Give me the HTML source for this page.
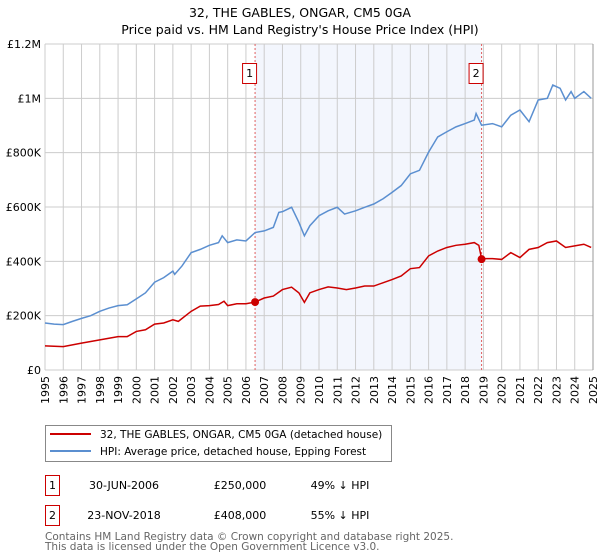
<!DOCTYPE html>
<html><head><meta charset="utf-8"><style>
body{margin:0;width:600px;height:560px;background:#fff;font-family:"DejaVu Sans","Liberation Sans",sans-serif;overflow:hidden}
</style></head><body>
<svg width="600" height="560" style="position:absolute;left:0;top:0" font-family="DejaVu Sans, Liberation Sans, sans-serif">
<text x="300" y="17" text-anchor="middle" font-size="12.5">32, THE GABLES, ONGAR, CM5 0GA</text>
<text x="300" y="34" text-anchor="middle" font-size="12.5">Price paid vs. HM Land Registry's House Price Index (HPI)</text>
<g id="plot"></g>
<rect x="45.5" y="425.5" width="346" height="36" fill="#fff" stroke="#888"/>
<line x1="50" y1="434" x2="91" y2="434" stroke="#cc0000" stroke-width="2"/>
<text x="100" y="438" font-size="10.5">32, THE GABLES, ONGAR, CM5 0GA (detached house)</text>
<line x1="50" y1="451" x2="91" y2="451" stroke="#5b8fd0" stroke-width="2"/>
<text x="100" y="455" font-size="10.5">HPI: Average price, detached house, Epping Forest</text>
<g font-size="11">
<rect x="45.5" y="475.5" width="14" height="20" fill="#fff" stroke="#cc0000"/>
<text x="52.5" y="489" text-anchor="middle">1</text>
<text x="124" y="489" text-anchor="middle">30-JUN-2006</text>
<text x="240" y="489" text-anchor="middle">£250,000</text>
<text x="340" y="489" text-anchor="middle">49% ↓ HPI</text>
<rect x="45.5" y="505.5" width="14" height="20" fill="#fff" stroke="#cc0000"/>
<text x="52.5" y="519" text-anchor="middle">2</text>
<text x="124" y="519" text-anchor="middle">23-NOV-2018</text>
<text x="240" y="519" text-anchor="middle">£408,000</text>
<text x="340" y="519" text-anchor="middle">55% ↓ HPI</text>
</g>
<text x="45" y="540" font-size="10.5" fill="#666">Contains HM Land Registry data © Crown copyright and database right 2025.</text>
<text x="45" y="550" font-size="10.5" fill="#666">This data is licensed under the Open Government Licence v3.0.</text>
</svg>
<script>
const hpiYears=[1995,1995.5,1996,1996.5,1997,1997.5,1998,1998.5,1999,1999.5,2000,2000.5,2001,2001.5,2002,2002.1,2002.5,2003,2003.5,2004,2004.5,2004.7,2005,2005.5,2006,2006.5,2007,2007.5,2007.8,2008,2008.5,2008.9,2009.2,2009.5,2010,2010.5,2011,2011.4,2012,2012.5,2013,2013.5,2014,2014.5,2015,2015.5,2016,2016.5,2017,2017.5,2018,2018.5,2018.6,2018.9,2019.5,2020,2020.5,2021,2021.5,2022,2022.5,2022.8,2023.2,2023.5,2023.8,2024,2024.5,2024.9];
const hpiValues=[173,169,167,179,190,200,216,228,237,240,262,284,323,340,364,352,383,432,444,459,469,494,469,479,475,506,512,525,580,583,599,543,494,531,568,586,599,574,586,599,611,630,654,679,722,735,802,858,877,895,907,920,944,901,907,895,938,957,914,994,1000,1049,1037,994,1025,1000,1025,1000];
const priceYears=[1995,1996,1997,1998,1998.5,1999,1999.5,2000,2000.5,2001,2001.5,2002,2002.3,2003,2003.5,2004,2004.5,2004.8,2005,2005.5,2006,2006.5,2007,2007.5,2008,2008.5,2008.9,2009.2,2009.5,2010,2010.5,2011,2011.5,2012,2012.5,2013,2013.5,2014,2014.5,2015,2015.5,2016,2016.5,2017,2017.5,2018,2018.5,2018.75,2018.9,2019.5,2020,2020.5,2021,2021.5,2022,2022.5,2023,2023.5,2024,2024.5,2024.9];
const priceValues=[89,86,99,111,117,123,123,142,148,169,173,185,179,216,235,237,241,253,237,244,244,250,265,272,296,305,284,249,284,296,306,302,296,302,309,309,321,333,346,373,377,420,438,451,459,463,469,459,410,410,407,432,414,444,451,469,475,451,457,463,451];
const saleYears=[2006.5,2018.9];
const saleValues=[250,408];
const saleLabels=["1","2"];
const yTicks=[0,200,400,600,800,1000,1200];
const yTickLabels=["£0","£200K","£400K","£600K","£800K","£1M","£1.2M"];
const xTicks=[1995,1996,1997,1998,1999,2000,2001,2002,2003,2004,2005,2006,2007,2008,2009,2010,2011,2012,2013,2014,2015,2016,2017,2018,2019,2020,2021,2022,2023,2024,2025];

const X0=45,X1=593,Y0=370,Y1=44;
const xs=y=>X0+(y-1995)/30*(X1-X0);
const ys=v=>Y0-v/1200*(Y0-Y1);
const NS="http://www.w3.org/2000/svg";
const g=document.getElementById('plot');
function mk(t,a){const e=document.createElementNS(NS,t);for(const k in a)e.setAttribute(k,a[k]);g.appendChild(e);return e;}

const sh=mk('rect',{x:xs(saleYears[0]),y:Y1,width:xs(saleYears[1])-xs(saleYears[0]),height:Y0-Y1,fill:'#f3f6fd'});


xTicks.forEach(t=>{
 const l=mk('line',{x1:xs(t),x2:xs(t),y1:Y1,y2:Y0,stroke:'#ccc','stroke-width':1});
 
 
 const tx=mk('text',{x:0,y:0,transform:`translate(${xs(t)+4},${Y0+6}) rotate(-90)`,'text-anchor':'end','font-size':11});
 tx.textContent=t;
 
 
});
yTicks.forEach((t,i)=>{
 const l=mk('line',{x1:X0,x2:X1,y1:ys(t),y2:ys(t),stroke:'#ccc','stroke-width':1});
 
 
 const tx=mk('text',{x:X0-4,y:ys(t)+4,'text-anchor':'end','font-size':11});
 tx.textContent=yTickLabels[i];
 
 
});
const ax=mk('line',{x1:X1,x2:X1,y1:Y1,y2:Y0,stroke:'#999','stroke-width':1});


saleYears.forEach((s,i)=>{
 const l=mk('line',{x1:xs(s),x2:xs(s),y1:Y1,y2:Y0,stroke:'#e06060','stroke-width':1,'stroke-dasharray':'2,2'});
 
 
 const r=mk('rect',{x:xs(s)-12.5,y:63.5,width:14,height:20,fill:'#fff',stroke:'#cc0000'});
 
 
 const tx=mk('text',{x:xs(s)-5.5,y:77,'text-anchor':'middle','font-size':11});
 tx.textContent=saleLabels[i];
 
 
});
const hp=mk('polyline',{points:hpiYears.map((y,i)=>xs(y)+','+ys(hpiValues[i])).join(' '),fill:'none',stroke:'#5b8fd0','stroke-width':1.5});


const pp=mk('polyline',{points:priceYears.map((y,i)=>xs(y)+','+ys(priceValues[i])).join(' '),fill:'none',stroke:'#cc0000','stroke-width':1.5});


saleYears.forEach((s,i)=>{
 const c=mk('circle',{cx:xs(s),cy:ys(saleValues[i]),r:4,fill:'#cc0000'});
 
 
});
</script>
</body></html>
